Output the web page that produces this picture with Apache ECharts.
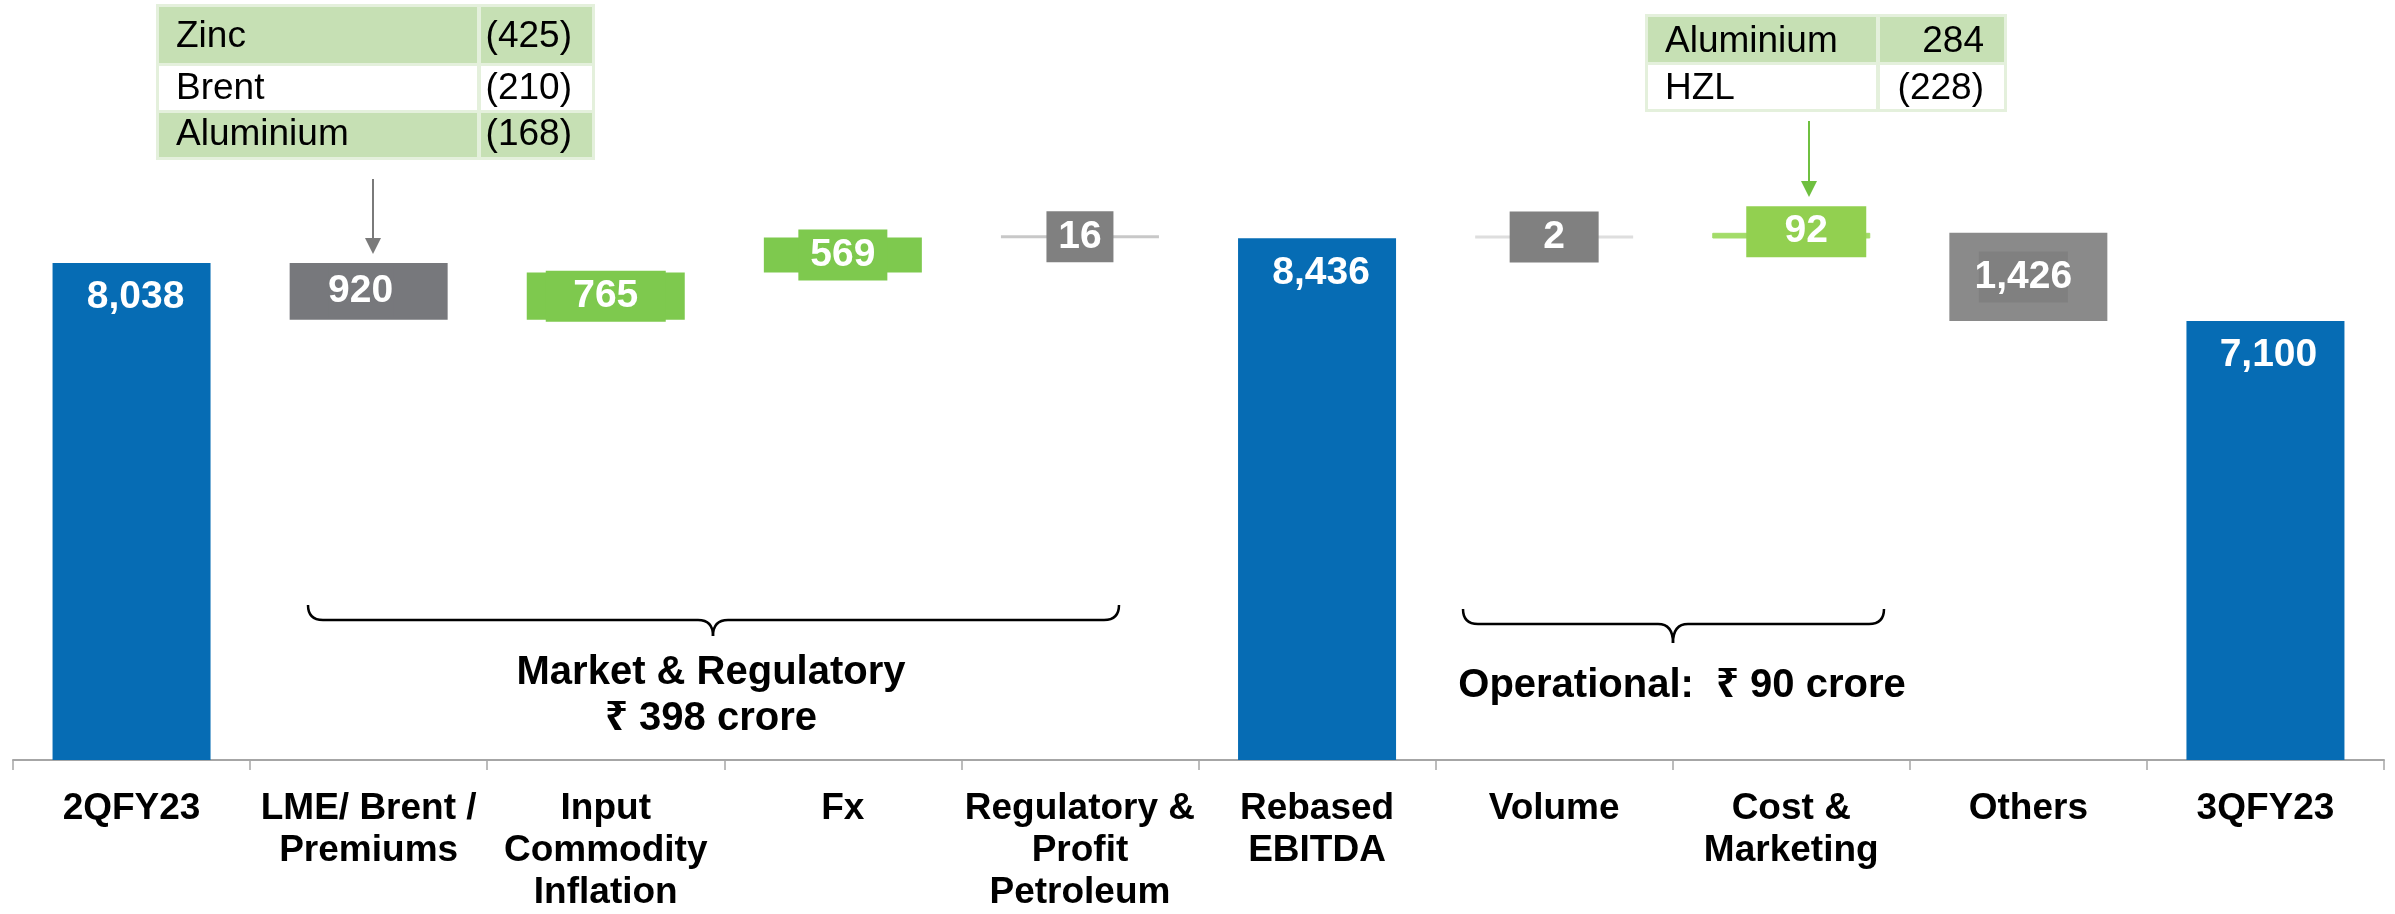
<!DOCTYPE html>
<html>
<head>
<meta charset="utf-8">
<title>EBITDA bridge 2QFY23 - 3QFY23</title>
<script src="https://cdn.jsdelivr.net/npm/echarts@6/dist/echarts.min.js"></script>
<style>
  html, body { margin: 0; padding: 0; background: #fff; }
  #main { width: 2395px; height: 914px; }
</style>
</head>
<body>
<div id="main"></div>
<script>
// chart values
const categories = ['2QFY23', 'LME/ Brent /\nPremiums', 'Input\nCommodity\nInflation', 'Fx',
  'Regulatory &\nProfit\nPetroleum', 'Rebased\nEBITDA', 'Volume', 'Cost &\nMarketing', 'Others', '3QFY23'];
const totals = [8038, null, null, null, null, 8436, null, null, null, 7100];
const deltas = [null, -920, 765, 569, -16, null, -2, 92, -1426, null];

// call-out tables
const leftTable = [['Zinc', '(425)'], ['Brent', '(210)'], ['Aluminium', '(168)']];
const rightTable = [['Aluminium', '284'], ['HZL', '(228)']];
const groupNotes = ['Market & Regulatory\n₹ 398 crore', 'Operational:  ₹ 90 crore'];

// styles (kept apart from the data)
const BLUE = '#066cb4';
const barColors = [BLUE, '#77787c', '#7ec94e', '#7ec94e', '#c8c8c8', BLUE, '#dedede', '#a3dc69', '#8a8a8a', BLUE];
const boxColors = [null, '#77787c', '#7ec94e', '#7ec94e', '#808080', null, '#808080', '#92d050', '#808080', null];
const boxWidths = [null, null, 120, 89, 67, null, 89, 120, 89, null];
const labelShift = [[4, 2], [-8, 0], [0, 0], [0, 0], [0, 0], [4, 2], [0, 0], [15, -4], [-5, 0], [3, 2]];
const FONT = '"Liberation Sans", Arial, "Noto Sans", "DejaVu Sans", sans-serif';

// waterfall: invisible base + visible piece
var baseData = [], pieceData = [];
var level = 0;
for (var i = 0; i < categories.length; i++) {
  if (totals[i] != null) {
    level = totals[i];
    baseData.push(0);
    pieceData.push({
      value: totals[i],
      itemStyle: { color: barColors[i] },
      label: {
        position: 'insideTop', distance: 13,
        offset: labelShift[i],
        formatter: totals[i].toLocaleString('en-US')
      }
    });
  } else {
    var next = level + deltas[i];
    baseData.push(Math.min(level, next));
    var shown = Math.abs(deltas[i]);
    var lbl = {
      position: 'inside',
      offset: labelShift[i],
      formatter: shown.toLocaleString('en-US'),
      backgroundColor: boxColors[i],
      lineHeight: 39,
      padding: [6, 0, 6, 0]
    };
    if (boxWidths[i]) lbl.width = boxWidths[i];
    pieceData.push({
      value: shown,
      itemStyle: { color: barColors[i], borderColor: barColors[i], borderWidth: i === 7 ? 1 : 0 },
      label: lbl
    });
    level = next;
  }
}

var myChart = echarts.init(document.getElementById('main'));

function tableGraphic(rows, x0, x1, xSplit, rowTops, rowBottoms, baselines, outer, valueRight) {
  var els = [];
  els.push({
    type: 'rect', shape: { x: outer[0], y: outer[1], width: outer[2], height: outer[3] },
    style: { fill: '#e4f0dc' }
  });
  rows.forEach(function (r, k) {
    var fill = k % 2 === 0 ? '#c6e0b4' : '#ffffff';
    var h = rowBottoms[k] - rowTops[k];
    els.push({ type: 'rect', shape: { x: x0, y: rowTops[k], width: xSplit - x0 - 2, height: h }, style: { fill: fill } });
    els.push({ type: 'rect', shape: { x: xSplit + 2, y: rowTops[k], width: x1 - xSplit - 2, height: h }, style: { fill: fill } });
    var mid = baselines[k] - 0.3465 * 37;
    els.push({
      type: 'text', x: x0 + 17, y: mid,
      style: { text: r[0], font: '37px ' + FONT, fill: '#000', verticalAlign: 'middle', align: 'left' }
    });
    els.push({
      type: 'text', x: valueRight, y: mid,
      style: { text: r[1], font: '37px ' + FONT, fill: '#000', verticalAlign: 'middle', align: 'right' }
    });
  });
  return els;
}

function arrow(x, y0, y1, color) {
  return [
    { type: 'line', shape: { x1: x, y1: y0, x2: x, y2: y1 - 14 }, style: { stroke: color, lineWidth: 2 } },
    { type: 'polygon', shape: { points: [[x - 8, y1 - 16], [x + 8, y1 - 16], [x, y1]] }, style: { fill: color } }
  ];
}

function brace(xl, xr, xm, yTop, yLine, yTip) {
  var r = yLine - yTop;
  var st = { stroke: '#000', lineWidth: 2.5, fill: null };
  function q(x1, y1, cx, cy, x2, y2) {
    return { type: 'bezierCurve', shape: { x1: x1, y1: y1, cpx1: cx, cpy1: cy, x2: x2, y2: y2 }, style: st };
  }
  function ln(x1, y1, x2, y2) {
    return { type: 'line', shape: { x1: x1, y1: y1, x2: x2, y2: y2 }, style: st };
  }
  return [
    q(xl, yTop, xl, yLine, xl + r, yLine),
    ln(xl + r, yLine, xm - r, yLine),
    q(xm - r, yLine, xm, yLine, xm, yTip),
    q(xm, yTip, xm, yLine, xm + r, yLine),
    ln(xm + r, yLine, xr - r, yLine),
    q(xr - r, yLine, xr, yLine, xr, yTop)
  ];
}

var graphics = []
  .concat(tableGraphic(leftTable, 159, 592, 479, [7, 66, 113], [63, 110, 157], [50, 102, 148], [156, 4, 439, 156], 572))
  .concat(tableGraphic(rightTable, 1648, 2004, 1878, [17, 65], [62, 109], [55, 102], [1645, 14, 362, 98], 1984))
  .concat(arrow(373, 179, 254, '#7a7a7a'))
  .concat(arrow(1809, 121, 197, '#6fc040'))
  .concat(brace(308, 1119, 713, 605, 620, 636))
  .concat(brace(1463, 1884, 1673, 609, 624, 643))
  .concat([
    {
      type: 'text', x: 711, y: 650,
      style: { text: groupNotes[0], font: 'bold 40px ' + FONT, fill: '#000', align: 'center', verticalAlign: 'top', lineHeight: 46 }
    },
    {
      type: 'text', x: 1682, y: 663,
      style: { text: groupNotes[1], font: 'bold 40px ' + FONT, fill: '#000', align: 'center', verticalAlign: 'top', lineHeight: 46 }
    }
  ]);

myChart.setOption({
  animation: false,
  backgroundColor: '#fff',
  grid: { left: 13, right: 11, top: 18, bottom: 146, containLabel: false },
  xAxis: {
    type: 'category',
    data: categories,
    axisLine: { lineStyle: { color: '#a6a6a6', width: 2 } },
    axisTick: { show: true, length: 10, lineStyle: { color: '#a6a6a6', width: 1.5 } },
    axisLabel: {
      interval: 0, margin: 28,
      fontFamily: FONT, fontSize: 37, fontWeight: 'bold', color: '#000', lineHeight: 42
    }
  },
  yAxis: { type: 'value', min: 0, max: 12000, show: false, splitLine: { show: false } },
  series: [
    {
      name: 'base', type: 'bar', stack: 'wf', barWidth: 158,
      itemStyle: { color: 'transparent' },
      emphasis: { disabled: true },
      data: baseData
    },
    {
      name: 'EBITDA', type: 'bar', stack: 'wf', barWidth: 158, barMinHeight: 3,
      label: {
        show: true, color: '#fff', fontFamily: FONT, fontSize: 39, fontWeight: 'bold'
      },
      data: pieceData
    }
  ],
  graphic: graphics
});
</script>
</body>
</html>
